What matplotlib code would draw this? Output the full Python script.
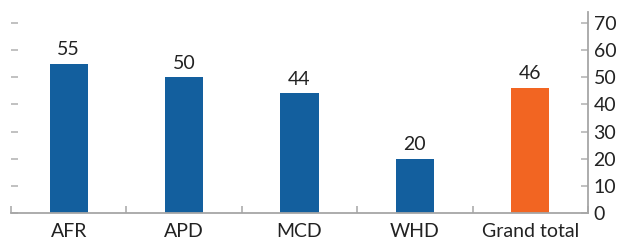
#!/usr/bin/env python3

import matplotlib
matplotlib.use("Agg")
import matplotlib.pyplot as plt
from matplotlib.ticker import MultipleLocator, FixedLocator

categories = ["AFR", "APD", "MCD", "WHD", "Grand total"]
values = [55, 50, 44, 20, 46]
colors = ["#135f9e", "#135f9e", "#135f9e", "#135f9e", "#f26522"]


def main():
    plt.rcParams['font.family'] = ['Lato', 'DejaVu Sans']
    fig = plt.figure(figsize=(6.26, 2.44), dpi=100)
    ax = fig.add_axes([11 / 626, 1 - 213 / 244, 577 / 626, 201 / 244])

    xs = list(range(len(categories)))
    bars = ax.bar(xs, values, width=0.33, color=colors, zorder=2)
    for b, v in zip(bars, values):
        ax.annotate(str(v), xy=(b.get_x() + b.get_width() / 2, v),
                    xytext=(0, 4), textcoords='offset points',
                    ha='center', va='bottom', fontsize=14, color='#222222')

    ax.set_xlim(-0.5, len(categories) - 0.5)
    ax.set_ylim(0, 74)
    ax.yaxis.set_major_locator(MultipleLocator(10))

    ax.set_xticks(xs)
    ax.set_xticklabels(categories)
    ax.xaxis.set_minor_locator(FixedLocator([i - 0.5 for i in range(len(categories) + 1)]))

    for side in ['top', 'left']:
        ax.spines[side].set_visible(False)
    for side in ['bottom', 'right']:
        ax.spines[side].set_color('#a6a6a6')
        ax.spines[side].set_linewidth(1.3)

    ax.tick_params(axis='x', which='major', length=0, pad=7,
                   labelsize=14, labelcolor='#222222')
    ax.tick_params(axis='x', which='minor', direction='in', length=5,
                   width=1.1, color='#a6a6a6')
    ax.tick_params(axis='y', which='major', left=True, right=True,
                   labelleft=False, labelright=True, direction='in',
                   length=5, width=1.1, color='#b0b0b0', pad=4,
                   labelsize=14, labelcolor='#222222')

    plt.savefig("out.png", dpi=100, format="png")
    plt.close()


if __name__ == '__main__':
    main()
